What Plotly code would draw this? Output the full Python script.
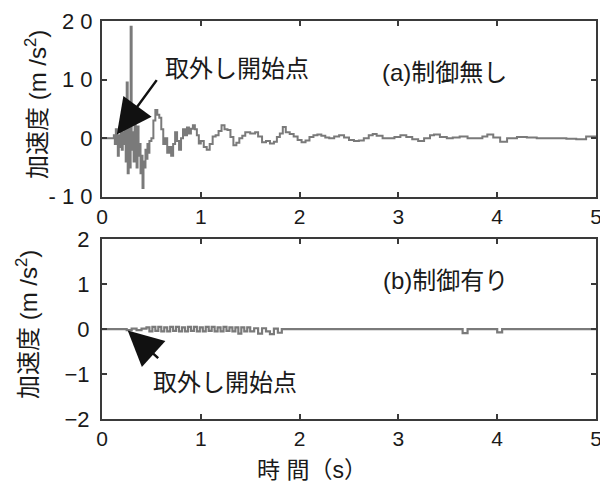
import plotly.graph_objects as go

# ---- data ----
t_a = [0.00, 0.10, 0.12, 0.13, 0.14, 0.15, 0.16, 0.17, 0.18, 0.19, 0.20, 0.21, 0.22, 0.23, 0.24,
       0.25, 0.26, 0.27, 0.28, 0.29, 0.30, 0.31, 0.32, 0.33, 0.34, 0.35, 0.36, 0.37, 0.38, 0.39,
       0.40, 0.41, 0.42, 0.43, 0.44, 0.45, 0.46, 0.47, 0.48, 0.50, 0.52, 0.54, 0.56, 0.58, 0.60,
       0.62, 0.64, 0.66, 0.68, 0.70, 0.72, 0.74, 0.76, 0.78, 0.80, 0.82, 0.84, 0.86, 0.88, 0.90,
       0.92, 0.94, 0.96, 0.98, 1.00, 1.03, 1.06, 1.09, 1.12, 1.15, 1.18, 1.21, 1.24, 1.27, 1.30,
       1.33, 1.36, 1.39, 1.42, 1.45, 1.50, 1.55, 1.58, 1.62, 1.66, 1.70, 1.74, 1.77, 1.80, 1.83,
       1.86, 1.90, 1.94, 1.98, 2.02, 2.06, 2.10, 2.14, 2.18, 2.22, 2.26, 2.30, 2.35, 2.40, 2.45,
       2.50, 2.55, 2.60, 2.65, 2.70, 2.74, 2.78, 2.84, 2.90, 2.96, 3.02, 3.08, 3.14, 3.20, 3.26,
       3.32, 3.36, 3.42, 3.49, 3.55, 3.62, 3.70, 3.78, 3.85, 3.90, 3.96, 4.03, 4.10, 4.20, 4.30,
       4.40, 4.50, 4.60, 4.70, 4.80, 4.85, 4.90, 5.00]
acc_a = [0, 0, 0.5, -1, 1.5, -0.5, -3, 0.5, -1.5, 2, -2, 1, -1, 3, -4,
         9.5, -6, 4, -5, 19, -2, 1, -4, 3, -1, -5, 2, -3, -1, -6,
         -3, -8.5, -4, -5, -2, -3.5, -1, -2.5, -0.5, 0, 3, 4.8, 4, 3.5, 1.5,
         -1, 0, -2.5, -1.5, -3, -1, 1, -0.5, -2, 0, 1.5, 0.5, 1.8, 0.8, 1.6,
         2.2, 1.5, 0.5, -0.9, -0.5, -1.5, -2, -1, 0.3, 0.5, 1.2, 2.2, 1.5, 1.4, 0.2,
         -1.2, -0.8, 0, 0.4, 1, 0.8, 1, 0.3, -0.7, -0.5, -0.9, -0.6, 0.2, 0.8, 1.9,
         1.0, 0.7, 0.3, -0.3, -0.7, -0.4, 0.2, 0.5, 0.6, 0.4, 0.1, 0, 0.3, 0.5, 0.1,
         -0.3, -0.5, -0.4, 0, 0.5, 0.7, 0.4, 0, 0, 0.2, 0.5, 0.2, -0.2, -0.5, 0,
         0.5, 0.6, 0.2, 0, 0.1, 0.3, 0, 0, 0.3, 0.6, 0.1, -0.6, 0, 0.2, 0.1,
         0, 0, 0, -0.1, -0.2, -0.2, 0.3, 0.3]

t_b = [0.00, 0.20, 0.25, 0.30, 0.35, 0.40, 0.45, 0.48, 0.51, 0.54, 0.57, 0.60, 0.63, 0.66, 0.69,
       0.72, 0.75, 0.78, 0.81, 0.84, 0.87, 0.90, 0.93, 0.96, 0.99, 1.02, 1.05, 1.08, 1.11, 1.14,
       1.17, 1.20, 1.23, 1.26, 1.29, 1.32, 1.35, 1.38, 1.41, 1.44, 1.47, 1.50, 1.54, 1.58, 1.62,
       1.66, 1.70, 1.74, 1.78, 1.82, 2.00, 3.60, 3.65, 3.70, 3.95, 4.00, 4.05, 5.00]
acc_b = [0, 0, -0.02, 0.01, -0.02, 0.01, 0.04, -0.05, 0.05, -0.04, 0.05, -0.05, 0.04, -0.05, 0.05,
         -0.04, 0.05, -0.05, 0.04, -0.05, 0.05, -0.04, 0.05, -0.05, 0.04, -0.05, 0.05, -0.04, 0.05, -0.05,
         0.04, -0.05, 0.05, -0.04, 0.04, -0.05, 0.04, -0.10, 0.04, -0.05, 0.04, -0.05, 0.02, -0.10, 0.02,
         -0.05, -0.11, 0.01, -0.08, 0, 0, 0, -0.09, 0, 0, -0.07, 0, 0]

x_ticks = [0, 1, 2, 3, 4, 5]
ya_ticks = [-10, 0, 10, 20]
ya_ticktext = ["-\u00a01\u00a00", "0", "1\u00a00", "2\u00a00"]
yb_ticks = [-2, -1, 0, 1, 2]

FONT = "Liberation Sans, Arial, Noto Sans CJK JP, sans-serif"
AX = "#3a3a3a"
LINE = "#7a7a7a"
TXT = "#1a1a1a"

# figure pixel geometry (page body adds an 8px offset)
W, H = 600, 478
L, R, T, B = 94, 12, 13, 67
PW, PH = W - L - R, H - T - B


def px(xv):
    return (xv - L) / PW


def py(yv):
    return (H - B - yv) / PH


def clamp(v):
    return max(0.0, min(1.0, v))


fig = go.Figure()
fig.add_trace(go.Scatter(x=t_a, y=acc_a, mode="lines", line=dict(color=LINE, width=2, shape="hv"),
                         xaxis="x", yaxis="y", showlegend=False))
fig.add_trace(go.Scatter(x=t_b, y=acc_b, mode="lines", line=dict(color=LINE, width=2.2, shape="hv"),
                         xaxis="x2", yaxis="y2", showlegend=False))

axis_common = dict(showline=True, mirror="ticks", linecolor=AX, linewidth=2,
                   ticks="inside", ticklen=5, tickwidth=1.5, tickcolor=AX,
                   showgrid=False, zeroline=False, automargin=False)

fig.update_layout(
    width=W, height=H,
    margin=dict(l=L, r=R, t=T, b=B),
    paper_bgcolor="white", plot_bgcolor="white",
    font=dict(family=FONT, color=TXT),
    xaxis=dict(domain=[0, 1], anchor="y", range=[0, 5], tickvals=x_ticks,
               tickfont=dict(size=21, color=TXT), **axis_common),
    yaxis=dict(domain=[clamp(py(188.7)), 1], anchor="x", range=[-10, 20], tickvals=ya_ticks,
               ticktext=ya_ticktext, ticklabelstandoff=3,
               tickfont=dict(size=22, color=TXT), **axis_common),
    xaxis2=dict(domain=[0, 1], anchor="y2", range=[0, 5], tickvals=x_ticks,
                tickfont=dict(size=21, color=TXT), **axis_common),
    yaxis2=dict(domain=[0, clamp(py(231.3))], anchor="x2", range=[-2, 2], tickvals=yb_ticks,
                ticklabelstandoff=6,
                tickfont=dict(size=22, color=TXT), **axis_common),
)


def label(xv, yv, text, size=24, angle=0):
    fig.add_annotation(xref="paper", yref="paper", x=px(xv), y=py(yv), text=text,
                       showarrow=False, xanchor="center", yanchor="middle", textangle=angle,
                       font=dict(family=FONT, size=size, color=TXT))


# arrows (tip in data coords, tail as pixel offset)
fig.add_annotation(xref="x", yref="y", x=0.15, y=0.6, ax=41, ay=-56,
                   showarrow=True, arrowhead=2, arrowsize=2.8, arrowwidth=2.5, arrowcolor="#111",
                   text="")
fig.add_annotation(xref="x2", yref="y2", x=0.26, y=-0.03, ax=32, ay=29,
                   showarrow=True, arrowhead=2, arrowsize=2.8, arrowwidth=2.5, arrowcolor="#111",
                   text="")

label(229, 60, "取外し開始点")
label(436, 64, "(a)制御無し")
label(217, 374, "取外し開始点")
label(437, 272, "(b)制御有り")

# axis titles
label(28, 97, "加速度 (m /s<sup>2</sup>)", size=24, angle=-90)
label(19, 317, "加速度 (m /s<sup>2</sup>)", size=24, angle=-90)
label(304, 462, "時 間（s）", size=23)

fig.write_html("out.html")
